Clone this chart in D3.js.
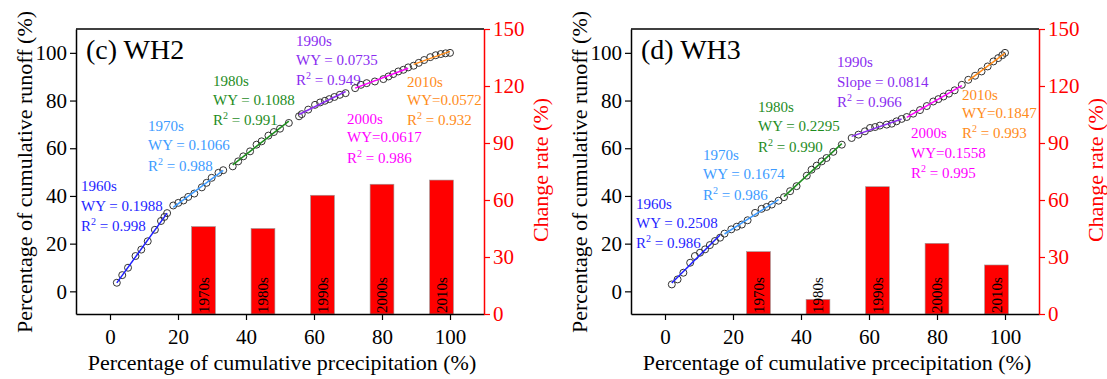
<!DOCTYPE html>
<html>
<head>
<meta charset="utf-8">
<script src="https://cdnjs.cloudflare.com/ajax/libs/d3/7.8.5/d3.min.js"></script>
<style>
	body {
		margin: 0;
		padding: 0;
		background: #fff;
	}
	text {
		font-family: "Liberation Serif", "Times New Roman", serif;
	}
</style>
</head>
<body>
<div id="content"></div>
<script>

// ---- data ----
var decades = ["1960s", "1970s", "1980s", "1990s", "2000s", "2010s"];
var yearsPerDecade = [10, 10, 10, 10, 10, 8];

// WH2: cumulative precipitation (%) / cumulative runoff (%)
var wh2Precip = [2.0, 3.6, 5.3, 7.5, 9.2, 11.1, 13.2, 15.0, 16.0, 16.8,
	18.6, 20.1, 21.6, 23.0, 24.8, 27.0, 28.4, 29.9, 31.9, 33.3,
	36.1, 37.7, 39.2, 41.2, 43.1, 44.6, 46.6, 48.2, 50.0, 52.6,
	55.6, 56.4, 58.3, 60.3, 61.8, 63.2, 64.5, 66.0, 67.6, 69.3,
	72.1, 73.8, 75.5, 77.9, 80.4, 81.9, 83.3, 84.8, 86.3, 87.7,
	89.3, 90.8, 92.4, 94.2, 95.8, 97.3, 98.7, 100];
var wh2Runoff = [3.6, 6.8, 9.9, 14.8, 17.5, 21.0, 25.8, 29.5, 31.2, 32.8,
	36.0, 37.1, 38.1, 39.6, 41.0, 43.6, 45.5, 47.6, 49.7, 50.8,
	52.4, 54.5, 56.6, 58.7, 61.5, 62.9, 65.3, 66.8, 68.2, 70.6,
	73.4, 74.3, 76.2, 78.2, 79.2, 79.9, 80.6, 81.5, 82.4, 83.1,
	85.2, 86.6, 87.3, 88.0, 89.0, 90.1, 91.1, 92.2, 92.9, 93.9,
	94.6, 95.8, 97.0, 98.2, 99.0, 99.5, 99.8, 100];

// WH3
var wh3Precip = [2.0, 3.7, 5.4, 7.4, 8.8, 10.3, 11.8, 13.2, 14.7, 16.2,
	17.5, 19.5, 21.1, 22.6, 24.3, 26.5, 28.4, 29.9, 31.4, 33.4,
	35.0, 36.8, 38.7, 41.7, 43.1, 44.6, 46.1, 47.5, 49.5, 52.0,
	54.9, 56.9, 58.8, 60.3, 61.8, 63.2, 65.2, 66.7, 68.1, 69.6,
	71.1, 73.0, 75.0, 77.0, 78.9, 80.4, 81.9, 83.5, 85.2, 87.3,
	89.2, 91.2, 93.1, 94.9, 96.6, 98.0, 99.2, 100];
var wh3Runoff = [2.9, 5.0, 7.8, 12.0, 14.8, 16.2, 17.6, 19.4, 21.1, 22.5,
	24.2, 26.0, 27.1, 28.0, 29.8, 32.9, 34.6, 35.4, 36.4, 38.0,
	39.5, 42.0, 44.1, 48.5, 51.0, 52.7, 54.5, 55.9, 58.5, 61.5,
	64.3, 65.7, 67.1, 68.5, 68.9, 69.5, 69.9, 70.3, 71.3, 72.3,
	73.1, 74.5, 76.0, 77.7, 79.6, 80.6, 81.7, 82.9, 84.3, 86.6,
	88.7, 90.4, 92.2, 94.3, 96.4, 97.8, 99.0, 100];

// fitted slopes and R2 printed on the chart
var wh2Slope = ["0.1988", "0.1066", "0.1088", "0.0735", "0.0617", "0.0572"];
var wh2R2 = ["0.998", "0.988", "0.991", "0.949", "0.986", "0.932"];
var wh3Slope = ["0.2508", "0.1674", "0.2295", "0.0814", "0.1558", "0.1847"];
var wh3R2 = ["0.986", "0.986", "0.990", "0.966", "0.995", "0.993"];

// change rate bars
var barDecades = ["1970s", "1980s", "1990s", "2000s", "2010s"];
var barCenters = [27.5, 45, 62.5, 80, 97.5];
var wh2Change = [46, 45, 62.5, 68.3, 70.5];
var wh3Change = [32.8, 7.7, 67, 37.2, 25.8];

var xTicks = [0, 20, 40, 60, 80, 100];
var yTicks = [0, 20, 40, 60, 80, 100];
var rTicks = [0, 30, 60, 90, 120, 150];

// ---- styling / layout ----
var colors = ["#1f1fff", "#3d9bff", "#1e8c1e", "#8a2cf0", "#ff00ff", "#ff8c1a"];
var W = 1107, H = 379;
var pw = 408, plotTop = 29, plotBottom = 314;
var barWidth = 7;
var serif = '"Liberation Serif", "Times New Roman", serif';

var svg = d3.select('#content')
	.append('svg')
	.attr('width', W)
	.attr('height', H);

// label anchor (x relative to plot left, baselines) and prefixes per decade
var wh2Labels = [
	{x: 5, y: [191, 211, 231], wy: "WY = "},
	{x: 72, y: [131, 150, 171], wy: "WY = "},
	{x: 137, y: [86, 105, 125], wy: "WY = "},
	{x: 220, y: [46, 64.5, 85], wy: "WY = "},
	{x: 271, y: [123.5, 142, 163], wy: "WY="},
	{x: 331, y: [87, 105, 125], wy: "WY="}
];
var wh3Labels = [
	{x: 5, y: [209, 228, 248], wy: "WY = "},
	{x: 72, y: [160, 179, 200], wy: "WY = "},
	{x: 127, y: [112, 131, 152], wy: "WY = "},
	{x: 206, y: [67, 87, 107], wy: "Slope = "},
	{x: 280, y: [138, 158, 178], wy: "WY="},
	{x: 331, y: [100, 118, 138], wy: "WY="}
];

function fit(xs, ys) {
	var mx = d3.mean(xs), my = d3.mean(ys);
	var sxy = 0, sxx = 0;
	for (var i = 0; i < xs.length; i++) {
		sxy += (xs[i] - mx) * (ys[i] - my);
		sxx += (xs[i] - mx) * (xs[i] - mx);
	}
	var b = sxy / sxx;
	return {b: b, a: my - b * mx};
}

function drawPanel(left, title, px, py, slopes, r2s, labels, change) {
	var g = svg.append('g').attr('transform', 'translate(' + left + ',0)');

	var x = d3.scaleLinear().domain([-10, 110]).range([0, pw]);
	var y = d3.scaleLinear().domain([-9.5, 110]).range([plotBottom, plotTop]);
	var yr = d3.scaleLinear().domain([0, 150]).range([plotBottom, plotTop]);

	// bars
	g.selectAll('rect.bar')
		.data(barDecades)
		.enter().append('rect')
		.attr('class', 'bar')
		.attr('x', function(d, i) { return x(barCenters[i] - barWidth / 2); })
		.attr('width', x(barWidth) - x(0))
		.attr('y', function(d, i) { return yr(change[i]); })
		.attr('height', function(d, i) { return yr(0) - yr(change[i]); })
		.attr('fill', '#ff0000')
		.attr('stroke', '#9a9a9a')
		.attr('stroke-width', 0.6);

	g.selectAll('text.barlab')
		.data(barDecades)
		.enter().append('text')
		.attr('class', 'barlab')
		.attr('transform', function(d, i) {
			return 'translate(' + (x(barCenters[i]) + 5) + ',' + (plotBottom - 1) + ') rotate(-90)';
		})
		.attr('font-size', 15)
		.attr('fill', '#000')
		.text(function(d) { return d; });

	// points grouped by decade
	var start = 0;
	decades.forEach(function(dec, k) {
		var n = yearsPerDecade[k];
		var xs = px.slice(start, start + n), ys = py.slice(start, start + n);
		start += n;
		var f = fit(xs, ys);
		var x0 = d3.min(xs), x1 = d3.max(xs);

		g.selectAll('circle.p' + k)
			.data(xs)
			.enter().append('circle')
			.attr('class', 'p' + k)
			.attr('cx', function(d) { return x(d); })
			.attr('cy', function(d, i) { return y(ys[i]); })
			.attr('r', 3.5)
			.attr('fill', 'none')
			.attr('stroke', '#333')
			.attr('stroke-width', 1);

		g.append('line')
			.attr('x1', x(x0)).attr('y1', y(f.a + f.b * x0))
			.attr('x2', x(x1)).attr('y2', y(f.a + f.b * x1))
			.attr('stroke', colors[k])
			.attr('stroke-width', 1.5);

		var lab = labels[k];
		var t = g.append('g').attr('fill', colors[k]).attr('font-size', 15);
		t.append('text').attr('x', lab.x).attr('y', lab.y[0]).text(dec);
		t.append('text').attr('x', lab.x).attr('y', lab.y[1]).text(lab.wy + slopes[k]);
		var r = t.append('text').attr('x', lab.x).attr('y', lab.y[2]);
		r.append('tspan').text('R');
		r.append('tspan').attr('dy', -6).attr('font-size', 10).text('2');
		r.append('tspan').attr('dy', 6).text(' = ' + r2s[k]);
	});

	// frame top
	g.append('line').attr('x1', 0).attr('x2', pw).attr('y1', plotTop).attr('y2', plotTop)
		.attr('stroke', '#000').attr('stroke-width', 1.5);

	var xAxis = g.append('g')
		.attr('transform', 'translate(0,' + plotBottom + ')')
		.call(d3.axisBottom(x).tickValues(xTicks).tickSize(6).tickSizeOuter(0));
	var yAxis = g.append('g')
		.call(d3.axisLeft(y).tickValues(yTicks).tickSize(6).tickSizeOuter(0));
	var rAxis = g.append('g')
		.attr('transform', 'translate(' + pw + ',0)')
		.call(d3.axisRight(yr).tickValues(rTicks).tickSize(6).tickSizeOuter(0));

	[xAxis, yAxis].forEach(function(a) {
		a.select('.domain').attr('stroke', '#000').attr('stroke-width', 1.5);
		a.selectAll('.tick line').attr('stroke', '#000').attr('stroke-width', 1.2);
		a.selectAll('.tick text').attr('font-size', 21).attr('fill', '#000')
			.attr('font-family', serif);
	});
	xAxis.selectAll('.tick text').attr('dy', '1.0em');
	rAxis.select('.domain').attr('stroke', '#ff0000').attr('stroke-width', 1.5);
	rAxis.selectAll('.tick line').attr('stroke', '#ff0000').attr('stroke-width', 1.2);
	rAxis.selectAll('.tick text').attr('font-size', 21).attr('fill', '#ff0000')
		.attr('font-family', serif);

	// title
	g.append('text')
		.attr('x', 10).attr('y', 59)
		.attr('font-size', 28)
		.text(title);

	// axis titles
	g.append('text')
		.attr('x', pw / 2 + 2).attr('y', 370)
		.attr('text-anchor', 'middle')
		.attr('font-size', 22)
		.text('Percentage of cumulative prcecipitation (%)');
	g.append('text')
		.attr('transform', 'translate(-44,172) rotate(-90)')
		.attr('text-anchor', 'middle')
		.attr('font-size', 22)
		.text('Percentage of cumulative runoff (%)');
	g.append('text')
		.attr('transform', 'translate(' + (pw + 64) + ',170) rotate(-90)')
		.attr('text-anchor', 'middle')
		.attr('font-size', 22)
		.attr('fill', '#ff0000')
		.text('Change rate (%)');
}

drawPanel(76, '(c) WH2', wh2Precip, wh2Runoff, wh2Slope, wh2R2, wh2Labels, wh2Change);
drawPanel(631, '(d) WH3', wh3Precip, wh3Runoff, wh3Slope, wh3R2, wh3Labels, wh3Change);

</script>
</body>
</html>
